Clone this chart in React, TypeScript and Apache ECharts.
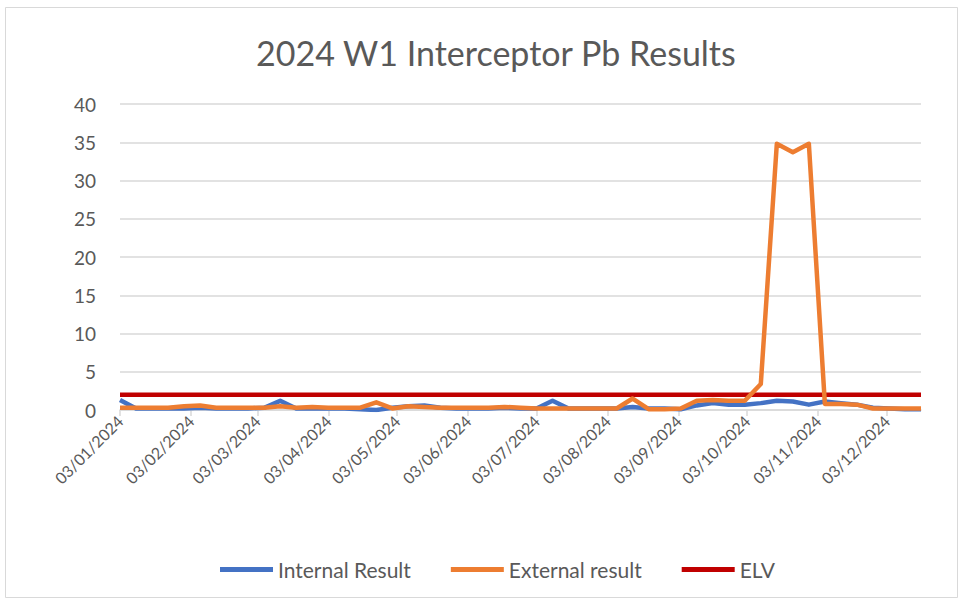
import React, { useEffect, useRef } from "react";
import * as echarts from "echarts";

const dates = [
  "2024-01-03", "2024-01-10", "2024-01-17", "2024-01-24", "2024-01-31",
  "2024-02-07", "2024-02-14", "2024-02-21", "2024-02-28",
  "2024-03-06", "2024-03-13", "2024-03-20", "2024-03-27",
  "2024-04-03", "2024-04-10", "2024-04-17", "2024-04-24",
  "2024-05-01", "2024-05-08", "2024-05-15", "2024-05-22", "2024-05-29",
  "2024-06-05", "2024-06-12", "2024-06-19", "2024-06-26",
  "2024-07-03", "2024-07-10", "2024-07-17", "2024-07-24", "2024-07-31",
  "2024-08-07", "2024-08-14", "2024-08-21", "2024-08-28",
  "2024-09-04", "2024-09-11", "2024-09-18", "2024-09-25",
  "2024-10-02", "2024-10-09", "2024-10-16", "2024-10-23", "2024-10-30",
  "2024-11-06", "2024-11-13", "2024-11-20", "2024-11-27",
  "2024-12-04", "2024-12-11", "2024-12-18",
];

const internalResult = [
  1.3, 0.2, 0.2, 0.2, 0.2, 0.3, 0.2, 0.2, 0.2, 0.3, 1.2, 0.2, 0.2, 0.2, 0.2,
  0.1, 0, 0.3, 0.5, 0.6, 0.3, 0.2, 0.2, 0.2, 0.3, 0.2, 0.2, 1.2, 0.2, 0.2,
  0.2, 0.2, 0.4, 0.2, 0.2, 0.1, 0.6, 0.9, 0.7, 0.7, 0.9, 1.2, 1.1, 0.7, 1.1,
  0.9, 0.7, 0.3, 0.2, 0.1, 0.1,
];

const externalResult = [
  0.3, 0.3, 0.3, 0.3, 0.5, 0.6, 0.3, 0.3, 0.3, 0.3, 0.5, 0.3, 0.4, 0.3, 0.3,
  0.3, 1.0, 0.2, 0.5, 0.4, 0.3, 0.3, 0.3, 0.3, 0.4, 0.3, 0.2, 0.2, 0.2, 0.2,
  0.2, 0.2, 1.5, 0.1, 0.1, 0.2, 1.2, 1.3, 1.2, 1.2, 3.4, 34.8, 33.7, 34.8,
  0.8, 0.8, 0.7, 0.2, 0.2, 0.2, 0.2,
];

const elv = [
  2, 2, 2, 2, 2, 2, 2, 2, 2, 2, 2, 2, 2, 2, 2, 2, 2, 2, 2, 2, 2, 2, 2, 2, 2,
  2, 2, 2, 2, 2, 2, 2, 2, 2, 2, 2, 2, 2, 2, 2, 2, 2, 2, 2, 2, 2, 2, 2, 2, 2, 2,
];

const tickDates = [
  "2024-01-03", "2024-02-03", "2024-03-03", "2024-04-03", "2024-05-03",
  "2024-06-03", "2024-07-03", "2024-08-03", "2024-09-03", "2024-10-03",
  "2024-11-03", "2024-12-03",
];

const seriesNames = ["Internal Result", "External result", "ELV"];
const title = "2024 W1 Interceptor Pb Results";

const toTs = (s: string) => {
  const [y, m, d] = s.split("-").map(Number);
  return Date.UTC(y, m - 1, d);
};
const pad = (n: number) => (n < 10 ? "0" + n : "" + n);
const fmt = (v: number) => {
  const d = new Date(v);
  return `${pad(d.getUTCDate())}/${pad(d.getUTCMonth() + 1)}/${d.getUTCFullYear()}`;
};

const FONT = "Lato";
const GREY_TEXT = "#595959";

export default function App() {
  const ref = useRef<HTMLDivElement>(null);
  useEffect(() => {
    if (!ref.current) return;
    const chart = echarts.init(ref.current, undefined, { renderer: "svg" });
    const xs = dates.map(toTs);
    const mk = (vals: number[]) => vals.map((v, i) => [xs[i], v]);
    chart.setOption({
      animation: false,
      backgroundColor: "#ffffff",
      textStyle: { fontFamily: FONT },
      title: {
        text: title,
        left: 251,
        top: 30,
        textStyle: {
          fontFamily: FONT,
          fontSize: 34,
          fontWeight: "normal",
          color: GREY_TEXT,
        },
      },
      graphic: [
        {
          type: "rect",
          shape: { x: 5.5, y: 7.5, width: 952, height: 590 },
          style: { fill: "none", stroke: "#D9D9D9", lineWidth: 1 },
          silent: true,
        },
      ],
      legend: {
        data: seriesNames,
        left: 215,
        top: 554,
        icon: "rect",
        itemWidth: 53,
        itemHeight: 5,
        itemGap: 40,
        textStyle: { fontFamily: FONT, fontSize: 21, color: GREY_TEXT },
      },
      grid: { left: 120, right: 37, top: 104, bottom: 193, containLabel: false },
      xAxis: {
        type: "value",
        min: toTs(dates[0]),
        max: toTs(dates[dates.length - 1]),
        splitLine: { show: false },
        axisLine: { show: true, lineStyle: { color: "#D9D9D9", width: 1.5 } },
        axisTick: {
          show: true,
          length: 6,
          customValues: tickDates.map(toTs),
          lineStyle: { color: "#D9D9D9", width: 1.5 },
        },
        axisLabel: {
          customValues: tickDates.map(toTs),
          rotate: 45,
          formatter: (v: number) => fmt(v),
          fontFamily: FONT,
          fontSize: 16,
          color: GREY_TEXT,
          margin: 8,
        },
      },
      yAxis: {
        type: "value",
        min: 0,
        max: 40,
        interval: 5,
        axisLine: { show: false },
        axisTick: { show: false },
        splitLine: { lineStyle: { color: "#D9D9D9", width: 1.5 } },
        axisLabel: {
          fontFamily: FONT,
          fontSize: 19,
          color: GREY_TEXT,
          margin: 24,
        },
      },
      series: [
        {
          name: seriesNames[0],
          type: "line",
          data: mk(internalResult),
          showSymbol: false,
          symbol: "none",
          z: 3,
          lineStyle: { color: "#4472C4", width: 4.5, join: "round" },
          itemStyle: { color: "#4472C4" },
        },
        {
          name: seriesNames[1],
          type: "line",
          data: mk(externalResult),
          showSymbol: false,
          symbol: "none",
          z: 4,
          lineStyle: { color: "#ED7D31", width: 4.5, join: "round" },
          itemStyle: { color: "#ED7D31" },
        },
        {
          name: seriesNames[2],
          type: "line",
          data: mk(elv),
          showSymbol: false,
          symbol: "none",
          z: 2,
          lineStyle: { color: "#C00000", width: 4.5 },
          itemStyle: { color: "#C00000" },
        },
      ],
    });
    return () => chart.dispose();
  }, []);
  return (
    <div
      ref={ref}
      style={{ position: "fixed", left: 0, top: 0, width: 958, height: 603 }}
    />
  );
}
